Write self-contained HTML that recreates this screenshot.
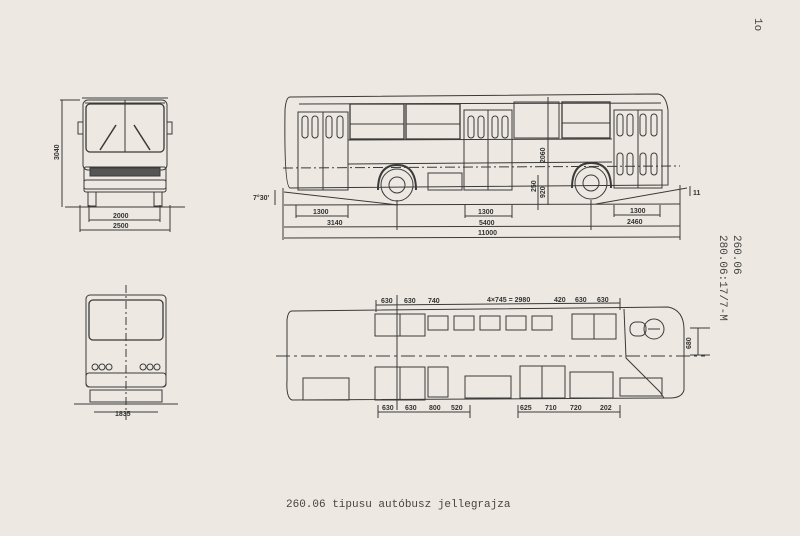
<!DOCTYPE html>
<html><head><meta charset="utf-8"><style>
html,body{margin:0;padding:0;background:#ede9e2;}
svg{display:block}
text{font-family:"Liberation Sans",sans-serif;font-weight:bold;fill:#333}
.m{font-family:"Liberation Mono",monospace;font-weight:normal;fill:#444}
</style></head><body>
<svg width="800" height="536" viewBox="0 0 800 536" xmlns="http://www.w3.org/2000/svg">
<rect width="800" height="536" fill="#ede9e2"/>
<g stroke="#3a3a3a" fill="none" stroke-width="1">
<!-- FRONT VIEW -->
<rect x="83" y="100" width="84" height="70" rx="5"/>
<path d="M85 103 L165 103 M82 98 L168 98"/>
<rect x="86" y="104" width="78" height="48" rx="4" stroke-width="1.3"/>
<line x1="125" y1="100" x2="125" y2="152"/>
<path d="M100 150 L116 125 M150 150 L134 125" stroke-width="1.5"/>
<rect x="78" y="122" width="5" height="12"/><rect x="167" y="122" width="5" height="12"/>
<rect x="84" y="167" width="82" height="22" rx="2"/>
<rect x="90" y="168" width="70" height="8" fill="#555"/>
<rect x="84" y="180" width="82" height="12" rx="2"/>
<rect x="88" y="192" width="8" height="14"/><rect x="154" y="192" width="8" height="14"/>
<line x1="65" y1="207" x2="185" y2="207"/>
<line x1="60" y1="100" x2="80" y2="100"/>
<line x1="62" y1="100" x2="62" y2="207"/>
<line x1="89" y1="205" x2="89" y2="222"/><line x1="160" y1="205" x2="160" y2="222"/>
<line x1="89" y1="220" x2="160" y2="220"/>
<line x1="80" y1="205" x2="80" y2="232"/><line x1="170" y1="205" x2="170" y2="232"/>
<line x1="80" y1="230" x2="170" y2="230"/>
<!-- REAR VIEW -->
<rect x="86" y="295" width="80" height="92" rx="4"/>
<rect x="89" y="300" width="74" height="40" rx="4" stroke-width="1.3"/>
<line x1="126" y1="285" x2="126" y2="420" stroke-dasharray="8,3,2,3"/>
<circle cx="95" cy="367" r="3"/><circle cx="102" cy="367" r="3"/><circle cx="109" cy="367" r="3"/>
<circle cx="143" cy="367" r="3"/><circle cx="150" cy="367" r="3"/><circle cx="157" cy="367" r="3"/>
<rect x="86" y="373" width="80" height="14" rx="3"/>
<rect x="90" y="390" width="72" height="12"/>
<line x1="74" y1="404" x2="178" y2="404"/>
<line x1="94" y1="412" x2="158" y2="412"/>
<!-- SIDE VIEW -->
<path d="M290 97 L658 94 Q666 95 668 110 L668 185 L290 188 Q284 186 285 110 Q286 97 290 97 Z"/>
<line x1="299" y1="104" x2="661" y2="103"/>
<rect x="298" y="112" width="50" height="78"/>
<rect x="464" y="110" width="48" height="80"/>
<rect x="614" y="110" width="48" height="78"/>
<g>
<rect x="302" y="116" width="6" height="22" rx="3"/><rect x="312" y="116" width="6" height="22" rx="3"/><rect x="326" y="116" width="6" height="22" rx="3"/><rect x="337" y="116" width="6" height="22" rx="3"/>
<rect x="468" y="116" width="6" height="22" rx="3"/><rect x="478" y="116" width="6" height="22" rx="3"/><rect x="492" y="116" width="6" height="22" rx="3"/><rect x="502" y="116" width="6" height="22" rx="3"/>
<rect x="617" y="114" width="6" height="22" rx="3"/><rect x="627" y="114" width="6" height="22" rx="3"/><rect x="640" y="114" width="6" height="22" rx="3"/><rect x="651" y="114" width="6" height="22" rx="3"/>
<rect x="617" y="153" width="6" height="22" rx="3"/><rect x="627" y="153" width="6" height="22" rx="3"/><rect x="640" y="153" width="6" height="22" rx="3"/><rect x="651" y="153" width="6" height="22" rx="3"/>
</g>
<line x1="323" y1="112" x2="323" y2="190"/><line x1="488" y1="110" x2="488" y2="190"/><line x1="638" y1="110" x2="638" y2="188"/>
<rect x="350" y="104" width="54" height="35" stroke-width="1.3"/><line x1="350" y1="124" x2="404" y2="124"/>
<rect x="406" y="104" width="54" height="35" stroke-width="1.3"/><line x1="406" y1="124" x2="460" y2="124"/>
<rect x="514" y="102" width="45" height="36"/>
<rect x="562" y="102" width="48" height="36" stroke-width="1.3"/><line x1="562" y1="123" x2="610" y2="123"/>
<line x1="348" y1="140" x2="612" y2="139"/>
<line x1="348" y1="164" x2="612" y2="162"/>
<path d="M378 190 Q378 165 397 165 Q416 165 416 190" stroke-width="2"/>
<circle cx="397" cy="185" r="16"/><circle cx="397" cy="185" r="8"/>
<path d="M572 188 Q572 163 591 163 Q611 163 611 188" stroke-width="2"/>
<circle cx="591" cy="183" r="16"/><circle cx="591" cy="183" r="8"/>
<rect x="428" y="173" width="34" height="17"/>
<line x1="283" y1="168" x2="680" y2="166" stroke-dasharray="10,3,2,3"/>
<path d="M284 192 L398 205 M596 204 L687 188"/>
<line x1="284" y1="205" x2="680" y2="204"/>
<line x1="283" y1="188" x2="283" y2="240"/><line x1="680" y1="185" x2="680" y2="240"/>
<line x1="296" y1="205" x2="296" y2="218"/><line x1="348" y1="205" x2="348" y2="218"/><line x1="296" y1="216" x2="348" y2="216"/>
<line x1="465" y1="205" x2="465" y2="218"/><line x1="512" y1="205" x2="512" y2="218"/><line x1="465" y1="216" x2="512" y2="216"/>
<line x1="614" y1="205" x2="614" y2="217"/><line x1="660" y1="205" x2="660" y2="217"/><line x1="614" y1="215" x2="660" y2="215"/>
<line x1="397" y1="200" x2="397" y2="230"/><line x1="591" y1="200" x2="591" y2="230"/>
<line x1="284" y1="227" x2="680" y2="226"/>
<line x1="284" y1="238" x2="680" y2="237"/>
<line x1="548" y1="97" x2="548" y2="205"/>
<line x1="538" y1="175" x2="538" y2="210"/>
<line x1="275" y1="190" x2="275" y2="205"/><line x1="690" y1="186" x2="690" y2="196"/>
<!-- PLAN VIEW -->
<path d="M292 311 L668 307 Q684 310 684 330 L684 390 Q682 398 670 398 L292 400 Q286 398 287 380 L287 320 Q288 311 292 311 Z"/>
<line x1="276" y1="356" x2="705" y2="356" stroke-dasharray="14,4,3,4"/>
<rect x="375" y="314" width="50" height="22"/><line x1="400" y1="314" x2="400" y2="336"/>
<rect x="428" y="316" width="20" height="14"/><rect x="454" y="316" width="20" height="14"/><rect x="480" y="316" width="20" height="14"/><rect x="506" y="316" width="20" height="14"/><rect x="532" y="316" width="20" height="14"/>
<rect x="572" y="314" width="44" height="25"/><line x1="594" y1="314" x2="594" y2="339"/>
<path d="M624 309 L626 358 L660 392 L664 398"/>
<circle cx="654" cy="329" r="10"/><line x1="648" y1="329" x2="660" y2="329"/>
<rect x="630" y="322" width="16" height="14" rx="6"/>
<rect x="303" y="378" width="46" height="22"/>
<rect x="375" y="367" width="50" height="33"/><line x1="400" y1="367" x2="400" y2="400"/>
<rect x="428" y="367" width="20" height="30"/>
<rect x="465" y="376" width="46" height="22"/>
<rect x="520" y="366" width="45" height="32"/><line x1="542" y1="366" x2="542" y2="398"/>
<rect x="570" y="372" width="43" height="26"/>
<rect x="620" y="378" width="42" height="18"/>
<line x1="397" y1="295" x2="397" y2="410"/>
<line x1="376" y1="305" x2="620" y2="303"/>
<line x1="376" y1="300" x2="376" y2="312"/><line x1="620" y1="298" x2="620" y2="310"/>
<line x1="378" y1="412" x2="470" y2="412"/><line x1="518" y1="412" x2="620" y2="412"/>
<line x1="378" y1="405" x2="378" y2="418"/><line x1="470" y1="405" x2="470" y2="418"/><line x1="518" y1="405" x2="518" y2="418"/><line x1="620" y1="405" x2="620" y2="418"/>
<line x1="690" y1="328" x2="710" y2="328"/><line x1="690" y1="355" x2="710" y2="355"/><line x1="698" y1="328" x2="698" y2="355"/>
</g>
<!-- labels -->
<g font-size="7">
<text transform="translate(59,160) rotate(-90)">3040</text>
<text x="113" y="218">2000</text>
<text x="113" y="228">2500</text>
<text x="115" y="416">1835</text>
<text x="253" y="200">7°30'</text>
<text x="693" y="195">11</text>
<text x="313" y="214">1300</text>
<text x="478" y="214">1300</text>
<text x="630" y="213">1300</text>
<text x="327" y="225">3140</text>
<text x="479" y="225">5400</text>
<text x="627" y="224">2460</text>
<text x="478" y="235">11000</text>
<text transform="translate(545,163) rotate(-90)">2060</text>
<text transform="translate(545,198) rotate(-90)">920</text>
<text transform="translate(536,192) rotate(-90)">250</text>
<text x="381" y="303">630</text><text x="404" y="303">630</text><text x="428" y="303">740</text>
<text x="487" y="302">4×745 = 2980</text>
<text x="554" y="302">420</text><text x="575" y="302">630</text><text x="597" y="302">630</text>
<text x="382" y="410">630</text><text x="405" y="410">630</text><text x="429" y="410">800</text><text x="451" y="410">520</text>
<text x="520" y="410">625</text><text x="545" y="410">710</text><text x="570" y="410">720</text><text x="600" y="410">202</text>
<text transform="translate(691,349) rotate(-90)">680</text>
</g>
<text class="m" font-size="11" transform="translate(734,235) rotate(90)">260.06</text>
<text class="m" font-size="11" transform="translate(720,235) rotate(90)">280.06:17/7-M</text>
<text class="m" font-size="11" transform="translate(755,18) rotate(90)">1o</text>
<text class="m" font-size="11" x="286" y="507">260.06 tipusu autóbusz jellegrajza</text>
</svg>
</body></html>
